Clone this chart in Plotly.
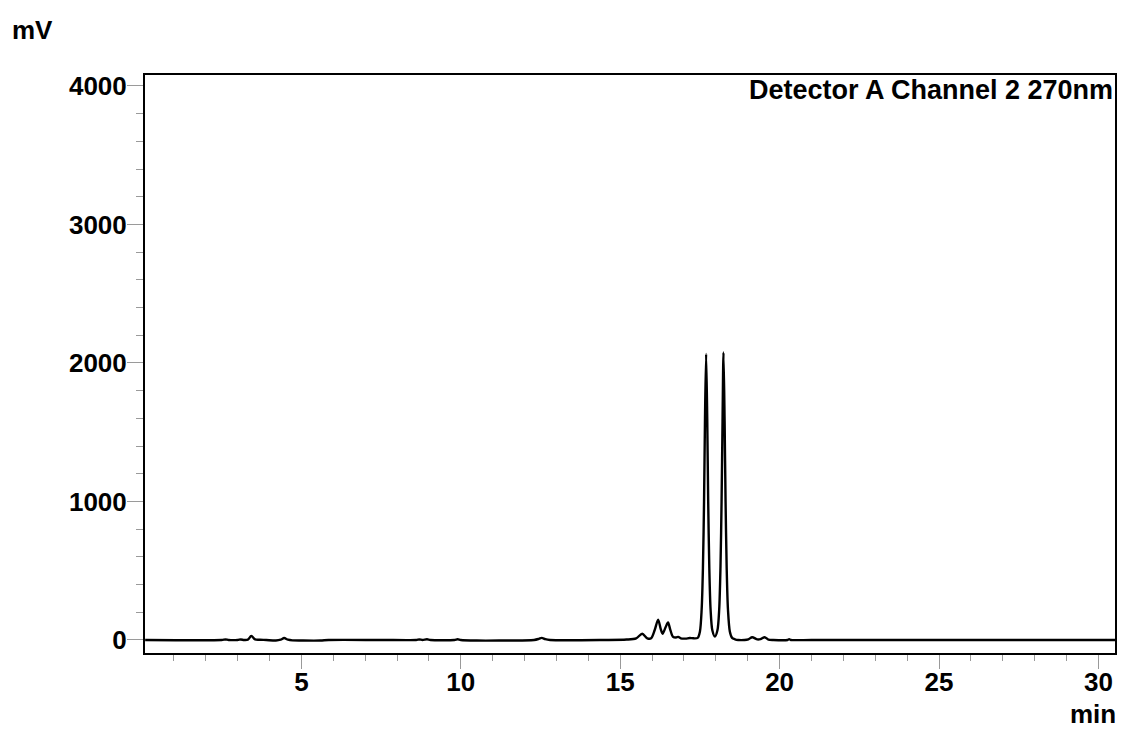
import plotly.graph_objects as go

# Chromatogram trace: retention time (min) and detector signal (mV)
time_min = [
    0.10, 2.50, 2.62, 2.72, 3.00, 3.10, 3.20, 3.32, 3.43, 3.55, 3.70, 3.90,
    4.20, 4.35, 4.46, 4.58, 4.72, 5.00, 5.60, 5.85, 7.50, 8.60, 8.70, 8.80,
    8.94, 9.05, 9.80, 9.90, 10.00, 10.50, 11.20, 12.30, 12.45, 12.54, 12.65,
    12.80, 14.50, 15.20, 15.50, 15.69, 15.85, 15.97, 16.08, 16.19, 16.27,
    16.33, 16.42, 16.50, 16.57, 16.65, 16.75, 16.82, 16.90, 17.05, 17.18,
    17.30, 17.43, 17.50, 17.555, 17.595, 17.63, 17.66, 17.695, 17.73,
    17.76, 17.795, 17.835, 17.89, 17.97, 18.05, 18.105, 18.145, 18.18, 18.21,
    18.24, 18.275, 18.305, 18.34, 18.38, 18.44, 18.51, 18.60, 18.70, 18.90,
    19.02, 19.14, 19.30, 19.40, 19.53, 19.65, 19.80, 20.25, 20.30, 20.35,
    21.00, 23.00, 25.00, 27.00, 29.00, 30.52,
]
signal_mv = [
    0, 0, 4, 0, 0, 4, 0, 2, 29, 4, 2, 0,
    -4, 2, 14, 2, -3, -4, -4, 0, 0, 0, 4, 0,
    5, 0, 0, 5, 0, -4, -4, 0, 8, 15, 6,
    0, 0, 3, 12, 45, 12, 12, 70, 146, 80,
    45, 90, 126, 75, 25, 18, 22, 12, 10, 14,
    12, 15, 60, 220, 520, 1000, 1600, 2065, 1600,
    1000, 520, 220, 70, 25, 70, 220, 520, 1000, 1580,
    2075, 1580, 1000, 520, 220, 60, 15, 5, 0, 0,
    5, 20, 4, 6, 20, 3, 0, 0, 5, 0,
    0, 0, 0, 0, 0, 0,
]

x_range = [0.095, 30.52]
y_range = [-94, 4079]

W, H = 1121, 731
M_L, M_R, M_T, M_B = 145, 4, 75, 78

FONT = "Liberation Sans, Arial, sans-serif"
TICK_GREY = "#9a9a9a"

fig = go.Figure()
fig.add_trace(go.Scatter(
    x=time_min, y=signal_mv, mode="lines",
    line=dict(color="black", width=2.4, shape="spline", smoothing=0.8),
    hoverinfo="skip", showlegend=False,
))

axis_common = dict(
    showline=True, linecolor="black", linewidth=2, mirror=True,
    showgrid=False, zeroline=False,
    ticks="outside", tickcolor=TICK_GREY, tickwidth=1,
    tickfont=dict(family=FONT, size=26, color="black", weight="bold"),
)

fig.update_xaxes(
    range=x_range, tick0=0, dtick=5, ticklen=14, ticklabelstandoff=-9,
    minor=dict(dtick=1, tick0=0, ticks="outside", ticklen=6,
               tickcolor=TICK_GREY, tickwidth=1, showgrid=False),
    **axis_common,
)
fig.update_yaxes(
    range=y_range, tick0=0, dtick=1000, ticklen=16, ticklabelstandoff=-5,
    minor=dict(dtick=200, tick0=0, ticks="outside", ticklen=7,
               tickcolor=TICK_GREY, tickwidth=1, showgrid=False),
    **axis_common,
)

plot_w = W - M_L - M_R
plot_h = H - M_T - M_B


def px_x(px):
    return (px - M_L) / plot_w


def px_y(py):
    return (H - M_B - py) / plot_h


fig.add_annotation(
    text="mV", xref="paper", yref="paper", x=px_x(10), y=px_y(30),
    xanchor="left", yanchor="middle", showarrow=False,
    font=dict(family=FONT, size=26, color="black", weight="bold"),
)
fig.add_annotation(
    text="min", xref="paper", yref="paper", x=px_x(1120), y=px_y(714),
    xanchor="right", yanchor="middle", showarrow=False,
    font=dict(family=FONT, size=26, color="black", weight="bold"),
)
fig.add_annotation(
    text="Detector A Channel 2 270nm", xref="paper", yref="paper",
    x=px_x(1117), y=px_y(90), xanchor="right", yanchor="middle",
    showarrow=False,
    font=dict(family=FONT, size=27, color="black", weight="bold"),
)

fig.update_layout(
    width=W, height=H,
    margin=dict(l=M_L, r=M_R, t=M_T, b=M_B, pad=0),
    paper_bgcolor="white", plot_bgcolor="white",
)

fig.write_html("out.html")
